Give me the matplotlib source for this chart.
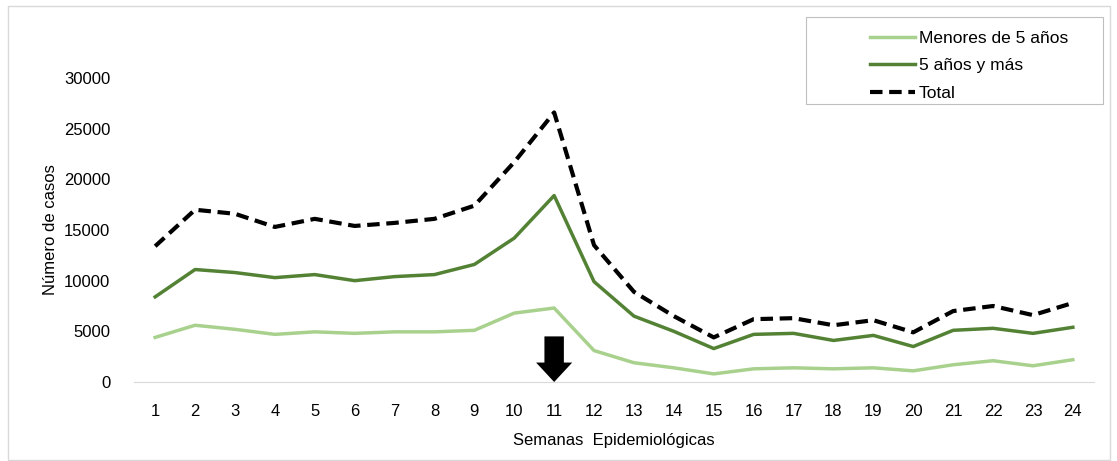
import numpy as np
import matplotlib.pyplot as plt
from matplotlib.patches import Rectangle

plt.rcParams['font.family'] = ['Liberation Sans Narrow', 'Liberation Sans', 'DejaVu Sans']

weeks = list(range(1, 25))
menores_5 = [4400, 5600, 5200, 4700, 4950, 4800, 4950, 4950, 5100, 6800, 7300, 3100,
             1900, 1400, 800, 1300, 1400, 1300, 1400, 1100, 1700, 2100, 1600, 2200]
mayores_5 = [8400, 11100, 10800, 10300, 10600, 10000, 10400, 10600, 11600, 14200, 18400, 9900,
             6500, 5000, 3300, 4700, 4800, 4100, 4600, 3500, 5100, 5300, 4800, 5400]
total = [13400, 17000, 16600, 15300, 16100, 15400, 15700, 16100, 17400, 21700, 26600, 13500,
         8900, 6500, 4400, 6200, 6300, 5600, 6100, 4900, 7000, 7500, 6600, 7800]
arrow_week = 11

fig = plt.figure(figsize=(11.17, 4.61), dpi=100)
ax = fig.add_axes([134 / 1117, 1 - 382 / 461, 960 / 1117, 304 / 461])

ax.plot(weeks, menores_5, color="#a9d18e", lw=2.5, label="Menores de 5 años")
ax.plot(weeks, mayores_5, color="#548235", lw=2.5, label="5 años y más")
ax.plot(weeks, total, color="black", lw=3, ls=(0, (3, 1.6)), label="Total")

# flecha en la semana 11
ax.annotate("", xy=(arrow_week, 0), xytext=(arrow_week, 4500),
            arrowprops=dict(arrowstyle="simple,head_width=2.6,head_length=1.4,tail_width=1.4",
                            color="black", lw=0, shrinkA=0, shrinkB=0), zorder=5)

ax.set_xlim(0.47, 24.53)
ax.set_ylim(0, 30000)
ax.set_xticks(weeks)
ax.set_yticks(range(0, 30001, 5000))
ax.tick_params(length=0, labelsize=12)
ax.tick_params(axis='x', pad=16)
ax.tick_params(axis='y', pad=17)
for s in ["top", "right", "left"]:
    ax.spines[s].set_visible(False)
ax.spines["bottom"].set_color("#d9d9d9")
ax.set_xlabel("Semanas  Epidemiológicas", fontsize=12, labelpad=10)
ax.set_ylabel("Número de casos", fontsize=12, labelpad=4)

# legend with its own frame
fig.patches.append(Rectangle((806 / 1117, 1 - 104 / 461), 297 / 1117, 87 / 461,
                             transform=fig.transFigure, fill=False,
                             edgecolor="#bfbfbf", lw=0.8))
leg = fig.legend(loc="upper left", bbox_to_anchor=(0.768, 0.96), fontsize=12.5,
                 frameon=False, handlelength=2.6, handletextpad=0.2,
                 labelspacing=0.72, borderpad=0.2)

fig.patches.append(Rectangle((8 / 1117, 0.003), 1102 / 1117, 0.985, transform=fig.transFigure,
                             fill=False, edgecolor="#d9d9d9", lw=1))

fig.savefig("out.png", dpi=100)
